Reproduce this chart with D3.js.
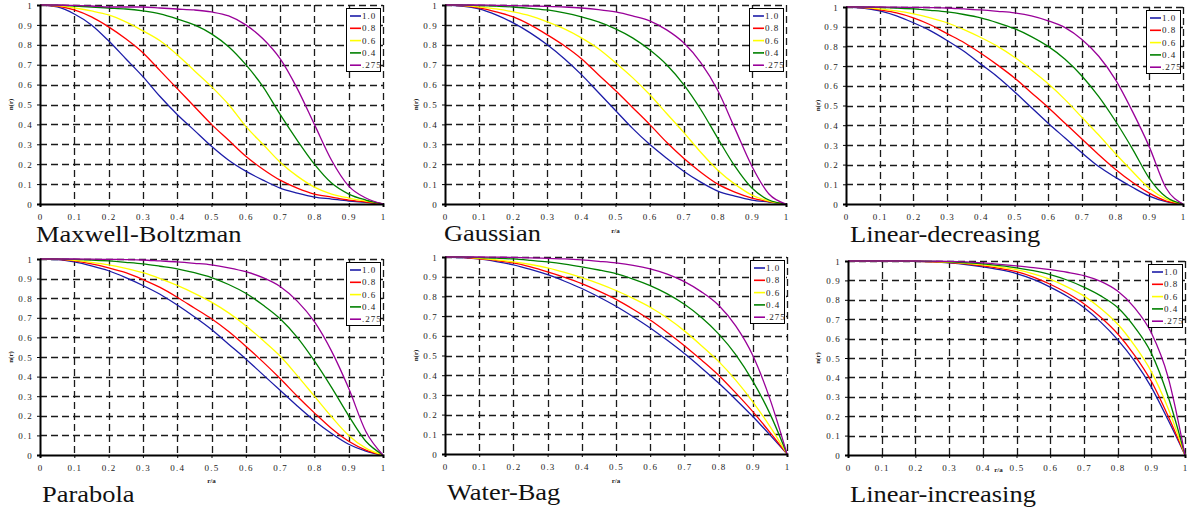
<!DOCTYPE html>
<html><head><meta charset="utf-8">
<script src="https://cdn.jsdelivr.net/npm/d3@7"></script>
<style>
html,body{margin:0;padding:0;background:#fff;}
svg{display:block;}
</style></head>
<body>
<svg id="chart" width="1192" height="513"></svg>
<script>
// ---- data ----
const rOverA = [0,0.05,0.1,0.15,0.2,0.25,0.3,0.35,0.4,0.45,0.5,0.55,0.6,0.65,0.7,0.75,0.8,0.85,0.9,0.95,1];
const seriesLabels = ["1.0","0.8","0.6","0.4",".275"];
const seriesColors = ["#1c1ca8","#ff0000","#ffff00","#008000","#990099"];
const yTicks = [0,0.1,0.2,0.3,0.4,0.5,0.6,0.7,0.8,0.9,1];
const xTicks = [0,0.1,0.2,0.3,0.4,0.5,0.6,0.7,0.8,0.9,1];
const panelTitles = ["Maxwell-Boltzman","Gaussian","Linear-decreasing","Parabola","Water-Bag","Linear-increasing"];

const maxwellBoltzman = [
 [1,0.99,0.955,0.90,0.82,0.73,0.64,0.54,0.45,0.37,0.29,0.22,0.165,0.12,0.08,0.055,0.035,0.025,0.015,0.008,0],
 [1,0.995,0.975,0.94,0.89,0.83,0.76,0.67,0.58,0.49,0.40,0.32,0.24,0.175,0.12,0.08,0.05,0.035,0.02,0.01,0],
 [1,0.997,0.985,0.97,0.95,0.915,0.87,0.82,0.75,0.67,0.59,0.50,0.39,0.30,0.21,0.14,0.085,0.05,0.03,0.015,0],
 [1,0.999,0.995,0.99,0.985,0.98,0.97,0.955,0.93,0.90,0.855,0.79,0.70,0.59,0.45,0.32,0.20,0.105,0.05,0.02,0],
 [1,1,0.998,0.995,0.99,0.99,0.99,0.985,0.98,0.975,0.965,0.945,0.90,0.83,0.73,0.58,0.40,0.22,0.09,0.03,0]
];
const gaussian = [
 [1,0.995,0.98,0.95,0.91,0.86,0.80,0.73,0.65,0.56,0.47,0.38,0.30,0.23,0.165,0.11,0.065,0.04,0.02,0.01,0],
 [1,0.997,0.985,0.965,0.94,0.90,0.85,0.795,0.73,0.65,0.57,0.485,0.40,0.31,0.23,0.16,0.10,0.06,0.03,0.012,0],
 [1,0.998,0.99,0.98,0.965,0.945,0.915,0.88,0.835,0.78,0.71,0.635,0.55,0.455,0.36,0.26,0.17,0.10,0.045,0.015,0],
 [1,1,0.997,0.994,0.99,0.983,0.975,0.96,0.94,0.915,0.88,0.835,0.775,0.70,0.60,0.475,0.33,0.19,0.08,0.02,0],
 [1,1,1,0.998,0.997,0.995,0.993,0.99,0.985,0.977,0.965,0.945,0.92,0.875,0.81,0.71,0.57,0.38,0.19,0.05,0]
];
const linearDecreasing = [
 [1,0.995,0.98,0.955,0.92,0.88,0.83,0.775,0.71,0.645,0.57,0.49,0.41,0.335,0.26,0.19,0.135,0.085,0.04,0.012,0],
 [1,0.997,0.985,0.97,0.945,0.91,0.865,0.82,0.765,0.705,0.64,0.565,0.49,0.41,0.33,0.25,0.175,0.11,0.055,0.015,0],
 [1,0.998,0.99,0.98,0.965,0.945,0.92,0.885,0.845,0.80,0.745,0.68,0.61,0.53,0.44,0.35,0.255,0.165,0.08,0.025,0],
 [1,1,0.998,0.995,0.99,0.983,0.975,0.962,0.945,0.92,0.89,0.85,0.80,0.735,0.65,0.545,0.42,0.28,0.13,0.035,0],
 [1,1,1,0.999,0.998,0.997,0.995,0.99,0.985,0.978,0.97,0.955,0.93,0.895,0.835,0.75,0.63,0.47,0.29,0.08,0]
];
const parabola = [
 [1,0.997,0.985,0.965,0.94,0.905,0.865,0.82,0.765,0.705,0.64,0.565,0.49,0.41,0.33,0.25,0.175,0.11,0.055,0.02,0],
 [1,0.998,0.99,0.975,0.955,0.93,0.895,0.855,0.805,0.75,0.695,0.63,0.555,0.475,0.39,0.30,0.215,0.135,0.07,0.025,0],
 [1,0.999,0.993,0.983,0.97,0.952,0.93,0.90,0.865,0.825,0.78,0.725,0.66,0.585,0.505,0.405,0.30,0.195,0.10,0.035,0],
 [1,1,0.998,0.995,0.99,0.983,0.975,0.963,0.95,0.93,0.905,0.87,0.825,0.765,0.695,0.60,0.48,0.345,0.20,0.07,0],
 [1,1,1,0.999,0.998,0.997,0.995,0.99,0.985,0.978,0.97,0.955,0.935,0.905,0.86,0.785,0.68,0.53,0.34,0.12,0]
];
const waterBag = [
 [1,0.997,0.99,0.977,0.96,0.937,0.91,0.877,0.84,0.797,0.75,0.697,0.64,0.577,0.51,0.437,0.36,0.277,0.19,0.097,0],
 [1,0.998,0.99,0.982,0.97,0.95,0.925,0.897,0.865,0.827,0.785,0.735,0.68,0.617,0.55,0.477,0.40,0.31,0.215,0.11,0],
 [1,0.999,0.993,0.985,0.975,0.962,0.945,0.922,0.895,0.865,0.83,0.79,0.745,0.69,0.625,0.55,0.47,0.375,0.265,0.14,0],
 [1,1,0.997,0.994,0.99,0.983,0.975,0.964,0.95,0.934,0.915,0.888,0.855,0.813,0.76,0.693,0.61,0.505,0.37,0.205,0],
 [1,1,1,0.999,0.998,0.996,0.993,0.99,0.985,0.978,0.97,0.958,0.94,0.913,0.875,0.823,0.755,0.65,0.50,0.28,0]
];
const linearIncreasing = [
 [1,1,1,0.999,0.998,0.995,0.99,0.982,0.97,0.955,0.935,0.905,0.865,0.818,0.76,0.685,0.595,0.485,0.35,0.18,0],
 [1,1,1,0.999,0.998,0.996,0.992,0.985,0.975,0.962,0.945,0.917,0.88,0.835,0.78,0.71,0.625,0.515,0.38,0.20,0],
 [1,1,1,1,0.999,0.997,0.994,0.988,0.98,0.969,0.955,0.933,0.905,0.867,0.82,0.755,0.675,0.565,0.43,0.24,0],
 [1,1,1,1,0.999,0.998,0.996,0.991,0.985,0.976,0.965,0.95,0.93,0.902,0.865,0.82,0.76,0.66,0.525,0.30,0],
 [1,1,1,1,1,0.999,0.998,0.995,0.99,0.983,0.975,0.966,0.955,0.942,0.925,0.895,0.845,0.76,0.63,0.40,0]
];

// ---- layout (positions only) ----
const panels = [
 {data: maxwellBoltzman, l:40,  r:383,  t:5,   b:204, ylab:13,  titleX:36,  titleY:242, ra:false},
 {data: gaussian,        l:445, r:786,  t:5,   b:204, ylab:418, titleX:444, titleY:241, ra:true, raY:233},
 {data: linearDecreasing,l:846, r:1183, t:7,   b:204, ylab:820, titleX:850, titleY:242, ra:false},
 {data: parabola,        l:40,  r:383,  t:259, b:455, ylab:13,  titleX:42,  titleY:502, ra:true, raY:483},
 {data: waterBag,        l:445, r:787,  t:257, b:454, ylab:418, titleX:447, titleY:500, ra:true, raY:483},
 {data: linearIncreasing,l:848, r:1185, t:261, b:455, ylab:820, titleX:850, titleY:502, ra:true, raY:472}
];

const svg = d3.select("#chart");
const serif = "Liberation Serif, Times New Roman, serif";

panels.forEach((p, pi) => {
  const x = d3.scaleLinear().domain([0,1]).range([p.l, p.r]);
  const y = d3.scaleLinear().domain([0,1]).range([p.b, p.t]);
  const g = svg.append("g");

  // gridlines (dashed)
  g.append("g").selectAll("line").data(yTicks.filter(v => v > 0)).join("line")
    .attr("x1", p.l).attr("x2", p.r)
    .attr("y1", d => Math.round(y(d)) + 0.5).attr("y2", d => Math.round(y(d)) + 0.5)
    .attr("stroke", "#1a1a1a").attr("stroke-width", 1.3).attr("stroke-dasharray", "7,4");
  g.append("g").selectAll("line").data(xTicks.filter(v => v > 0)).join("line")
    .attr("y1", p.t).attr("y2", p.b)
    .attr("x1", d => Math.round(x(d)) + 0.5).attr("x2", d => Math.round(x(d)) + 0.5)
    .attr("stroke", "#1a1a1a").attr("stroke-width", 1.3).attr("stroke-dasharray", "7,4");

  // curves
  const line = d3.line().x((d,i) => x(rOverA[i])).y(d => y(d)).curve(d3.curveMonotoneX);
  p.data.forEach((vals, si) => {
    g.append("path").datum(vals).attr("d", line)
      .attr("fill", "none").attr("stroke", seriesColors[si]).attr("stroke-width", 1.3);
  });

  // axes
  const fmt = d => d === 0 || d === 1 ? d3.format("d")(d) : d3.format(".1f")(d);
  const xAxis = d3.axisBottom(x).tickValues(xTicks).tickSize(3).tickFormat(fmt);
  const yAxis = d3.axisLeft(y).tickValues(yTicks).tickSize(3).tickFormat(fmt);
  const gx = g.append("g").attr("transform", `translate(0,${p.b})`).call(xAxis);
  const gy = g.append("g").attr("transform", `translate(${p.l},0)`).call(yAxis);
  [gx, gy].forEach(a => {
    a.attr("font-family", null).attr("font-size", null);
    a.select(".domain").attr("stroke", "#000").attr("stroke-width", 2);
    a.selectAll(".tick line").attr("stroke", "#000");
    a.selectAll("text").style("font-family", serif).style("font-size", "9px")
      .attr("letter-spacing", "1.2px").attr("fill", "#222");
  });
  gx.selectAll("text").attr("dy", "0").attr("y", 16);
  gy.selectAll("text").attr("x", -7).attr("dy", "0.35em");

  // y label
  svg.append("text").attr("transform", `translate(${p.ylab},${(p.t+p.b)/2}) rotate(-90)`)
    .attr("text-anchor", "middle").style("font-family", serif).style("font-size", "7px")
    .attr("font-weight", "bold").attr("fill", "#222").text("n(r)");

  if (p.ra) {
    svg.append("text").attr("x", x(0.5) + (p.l > 800 ? -18 : 0)).attr("y", p.raY)
      .attr("text-anchor", "middle").style("font-family", serif).style("font-size", "7px")
      .attr("font-weight", "bold").attr("fill", "#222").text("r/a");
  }

  // legend
  const lw = 34, lh = 63;
  const lx = p.r - lw - 3, ly = p.t + 3;
  const lg = svg.append("g").attr("transform", `translate(${lx},${ly})`);
  lg.append("rect").attr("x", 0.5).attr("y", 0.5).attr("width", lw).attr("height", lh)
    .attr("fill", "#fff").attr("stroke", "#000").attr("stroke-width", 1);
  seriesLabels.forEach((lab, si) => {
    const yy = 8 + si * 12.3;
    lg.append("line").attr("x1", 4).attr("x2", 15).attr("y1", yy).attr("y2", yy)
      .attr("stroke", seriesColors[si]).attr("stroke-width", 1.6);
    lg.append("text").attr("x", 16).attr("y", yy).attr("dy", "0.35em")
      .style("font-family", serif).style("font-size", "9px").attr("letter-spacing", "1px")
      .attr("fill", "#222").text(lab);
  });

  // title (horizontally stretched like the reference)
  svg.append("text").attr("transform", `translate(${p.titleX},${p.titleY}) scale(1.15,1)`)
    .style("font-family", serif).style("font-size", "23px").attr("fill", "#111")
    .text(panelTitles[pi]);
});
</script>
</body></html>
